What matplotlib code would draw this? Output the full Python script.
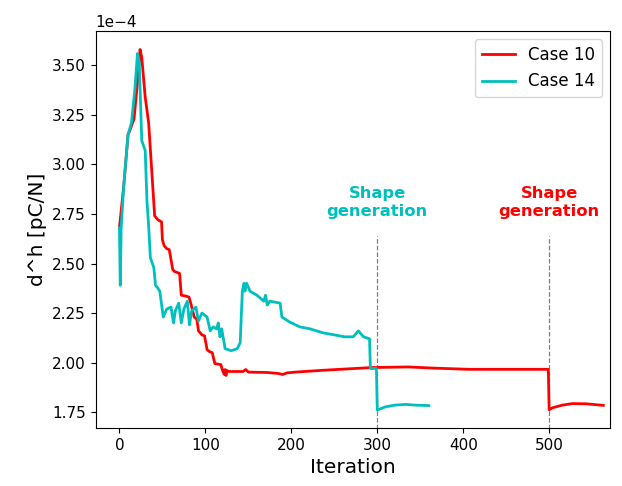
import matplotlib
matplotlib.use("Agg")
import matplotlib.pyplot as plt
import numpy as np

# Case 10 (red)
case10_x = [0, 5, 10, 12, 17, 22, 24, 26, 30, 34, 41, 45, 49, 50, 52, 55, 58, 62, 64, 70,
            72, 78, 81, 83, 87, 90, 92, 96, 99, 102, 105, 108, 111, 118, 120, 122, 123, 124,
            125, 127, 135, 144, 147, 150, 172, 185, 190, 195, 205, 236, 294, 336, 366, 407,
            499, 500, 504, 515, 527, 543, 563]
case10_y = [2.68, 2.89, 3.15, 3.17, 3.23, 3.46, 3.58, 3.54, 3.34, 3.21, 2.74, 2.72, 2.71, 2.62,
            2.59, 2.575, 2.57, 2.47, 2.46, 2.45, 2.34, 2.335, 2.33, 2.30, 2.23, 2.22, 2.16, 2.14,
            2.135, 2.065, 2.055, 2.05, 1.995, 1.99, 1.96, 1.94, 1.965, 1.935, 1.96, 1.955, 1.955,
            1.955, 1.965, 1.952, 1.95, 1.945, 1.94, 1.948, 1.952, 1.961, 1.975, 1.978, 1.972,
            1.966, 1.966, 1.762, 1.772, 1.785, 1.793, 1.792, 1.784]

# Case 14 (cyan)
case14_x = [0, 1, 2, 5, 10, 14, 18, 21, 23, 26, 30, 32, 34, 36, 40, 42, 44, 47, 51, 55, 60,
            63, 65, 69, 72, 75, 79, 81.5, 84, 89, 92, 96, 102, 105.6, 109, 113, 115, 117, 119,
            123, 130, 137, 140.5, 143, 145, 146, 148, 152, 160, 168, 170, 172, 175, 187, 189,
            198, 210, 222, 237, 250, 262, 272, 278, 284, 291, 292, 299, 300, 309, 320, 333,
            345, 360]
case14_y = [2.68, 2.39, 2.68, 2.89, 3.15, 3.21, 3.38, 3.56, 3.52, 3.12, 3.07, 2.82, 2.69, 2.53,
            2.48, 2.39, 2.38, 2.36, 2.23, 2.27, 2.28, 2.20, 2.26, 2.30, 2.20, 2.27, 2.31, 2.19,
            2.26, 2.28, 2.21, 2.25, 2.23, 2.16, 2.18, 2.17, 2.20, 2.13, 2.17, 2.07, 2.06, 2.07,
            2.10, 2.36, 2.40, 2.36, 2.40, 2.36, 2.34, 2.31, 2.34, 2.29, 2.31, 2.30, 2.23, 2.205,
            2.18, 2.17, 2.15, 2.14, 2.13, 2.13, 2.16, 2.13, 2.12, 1.97, 1.97, 1.76, 1.776, 1.785,
            1.789, 1.785, 1.783]

shape_gen_x = [300, 500]
shape_gen_colors = ['c', 'r']
shape_gen_text = "Shape\ngeneration"

fig = plt.figure(figsize=(6.22, 4.86), dpi=100)
ax = fig.add_axes([0.154, 0.119, 0.827, 0.817])

ax.plot(case10_x, np.array(case10_y) * 1e-4, color='r', lw=2, label='Case 10')
ax.plot(case14_x, np.array(case14_y) * 1e-4, color='c', lw=2, label='Case 14')

for xv, col in zip(shape_gen_x, shape_gen_colors):
    ax.plot([xv, xv], [1.60e-4, 2.64e-4], color='gray', ls='--', lw=0.9, zorder=0)
    ax.text(xv, 2.807e-4, shape_gen_text, color=col, fontsize=11.8, fontweight='bold',
            ha='center', va='center', linespacing=1.25)

ax.set_xlim(-27.5, 571)
ax.set_ylim(1.669e-4, 3.673e-4)
ax.set_xticks([0, 100, 200, 300, 400, 500])
ax.set_yticks(np.array([1.75, 2.0, 2.25, 2.5, 2.75, 3.0, 3.25, 3.5]) * 1e-4)
ax.ticklabel_format(axis='y', style='sci', scilimits=(-4, -4))
ax.tick_params(labelsize=11)
ax.yaxis.get_offset_text().set_fontsize(11)

ax.set_xlabel('Iteration', fontsize=14.5)
ax.set_ylabel('d^h [pC/N]', fontsize=14.5)
ax.legend(loc='upper right', fontsize=12)

fig.savefig('out.png', dpi=100)
